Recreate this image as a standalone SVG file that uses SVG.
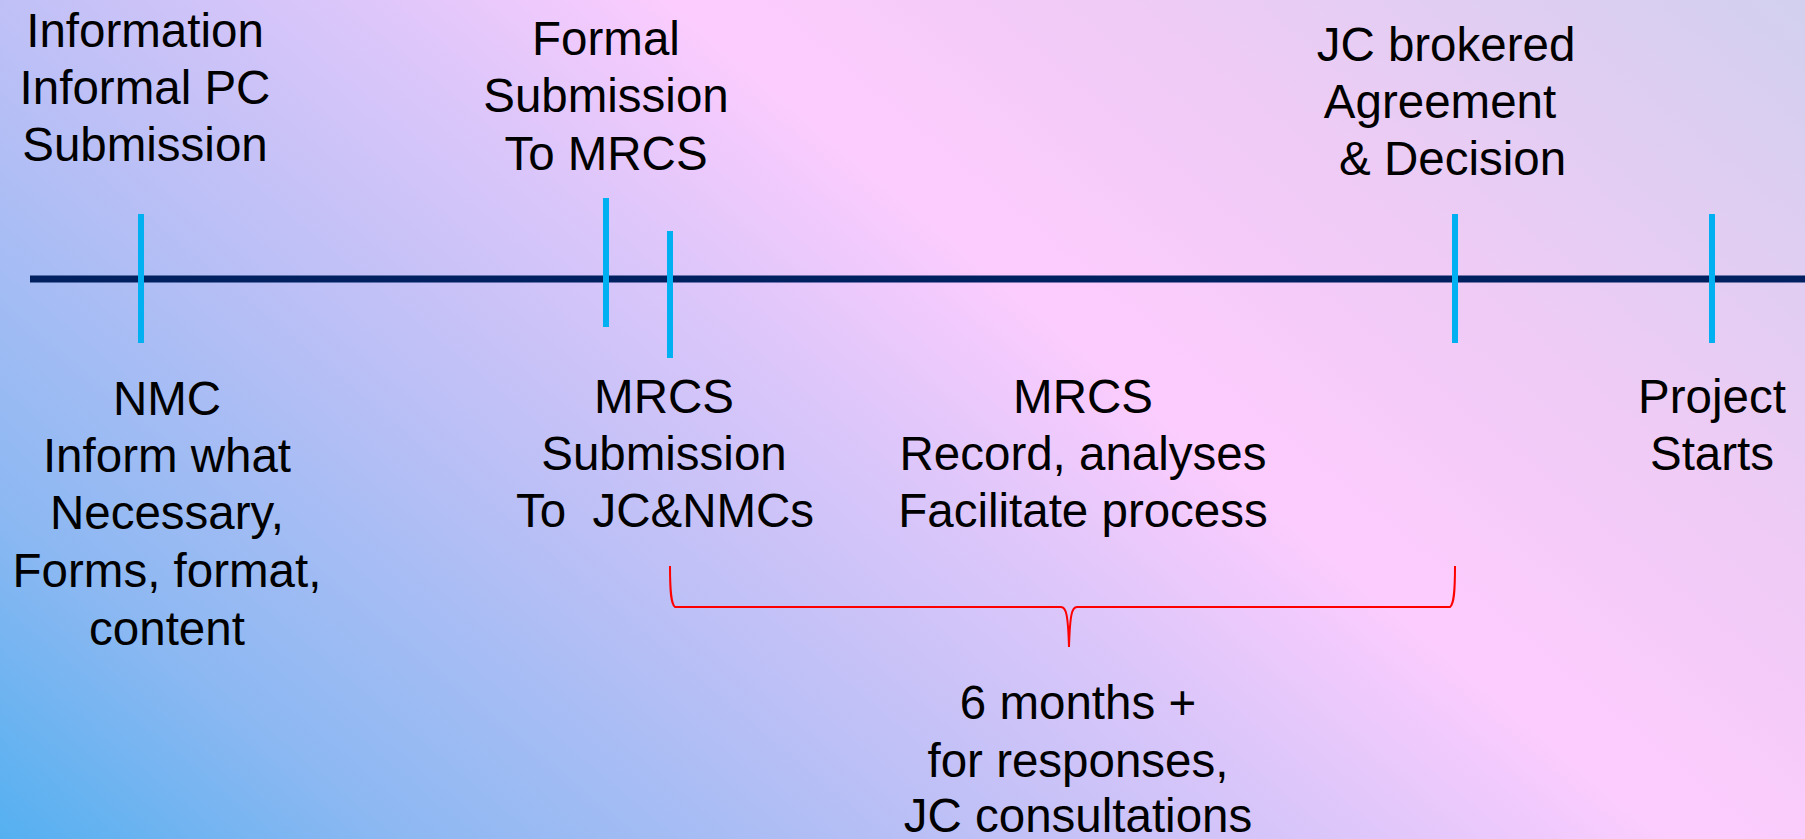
<svg xmlns="http://www.w3.org/2000/svg" width="1805" height="839" viewBox="0 0 1805 839">
  <defs>
    <linearGradient id="bg" gradientUnits="userSpaceOnUse" x1="0" y1="839" x2="1159" y2="-542">
      <stop offset="0" stop-color="#55b0f0"/>
      <stop offset="0.14" stop-color="#8cb8f2"/>
      <stop offset="0.34" stop-color="#bcc0f6"/>
      <stop offset="0.48" stop-color="#dcc6fa"/>
      <stop offset="0.6" stop-color="#fdccfe"/>
      <stop offset="0.75" stop-color="#f0cbf6"/>
      <stop offset="1" stop-color="#d2d0ee"/>
    </linearGradient>
    <style>
      text { font-family: "Liberation Sans", Arial, sans-serif; font-size: 47.5px; fill: #000; text-anchor: middle; }
      .axis { stroke: #002060; stroke-width: 7; fill: none; }
      .tick { stroke: #00b0f0; stroke-width: 6; fill: none; }
      .brace { stroke: #ff0000; stroke-width: 2; fill: none; }
    </style>
  </defs>
  <rect x="0" y="0" width="1805" height="839" fill="url(#bg)"/>

  <g id="connectors">
    <line class="axis" x1="30" y1="279" x2="1805" y2="279"/>
    <path class="brace" d="M670,566 C670,592 671,604 675,607 L1061,607 C1066,607 1068,614 1069,647 C1070,614 1072,607 1077,607 L1450,607 C1454,604 1455,592 1455,566"/>
  </g>

  <g id="tick-info"><line class="tick" x1="141" y1="214" x2="141" y2="343"/></g>
  <g id="tick-formal"><line class="tick" x1="606" y1="198" x2="606" y2="327"/></g>
  <g id="tick-mrcs"><line class="tick" x1="670" y1="231" x2="670" y2="358"/></g>
  <g id="tick-jc"><line class="tick" x1="1455" y1="214" x2="1455" y2="343"/></g>
  <g id="tick-project"><line class="tick" x1="1712" y1="214" x2="1712" y2="343"/></g>

  <g id="label-information">
    <text x="145" y="47">Information</text>
    <text x="145" y="104">Informal PC</text>
    <text x="145" y="161">Submission</text>
  </g>
  <g id="label-formal">
    <text x="606" y="55">Formal</text>
    <text x="606" y="112">Submission</text>
    <text x="606" y="170">To MRCS</text>
  </g>
  <g id="label-jc">
    <text x="1446" y="61">JC brokered</text>
    <text x="1440" y="118">Agreement</text>
    <text x="1446" y="175" xml:space="preserve"> &amp; Decision</text>
  </g>
  <g id="label-nmc">
    <text x="167" y="415">NMC</text>
    <text x="167" y="472">Inform what</text>
    <text x="167" y="529">Necessary,</text>
    <text x="167" y="587">Forms, format,</text>
    <text x="167" y="645">content</text>
  </g>
  <g id="label-mrcs-submission">
    <text x="664" y="413">MRCS</text>
    <text x="664" y="470">Submission</text>
    <text x="665" y="527" xml:space="preserve">To  JC&amp;NMCs</text>
  </g>
  <g id="label-mrcs-record">
    <text x="1083" y="413">MRCS</text>
    <text x="1083" y="470">Record, analyses</text>
    <text x="1083" y="527">Facilitate process</text>
  </g>
  <g id="label-project">
    <text x="1712" y="413">Project</text>
    <text x="1712" y="470">Starts</text>
  </g>
  <g id="label-duration">
    <text x="1078" y="719">6 months +</text>
    <text x="1078" y="777">for responses,</text>
    <text x="1078" y="832">JC consultations</text>
  </g>
</svg>
